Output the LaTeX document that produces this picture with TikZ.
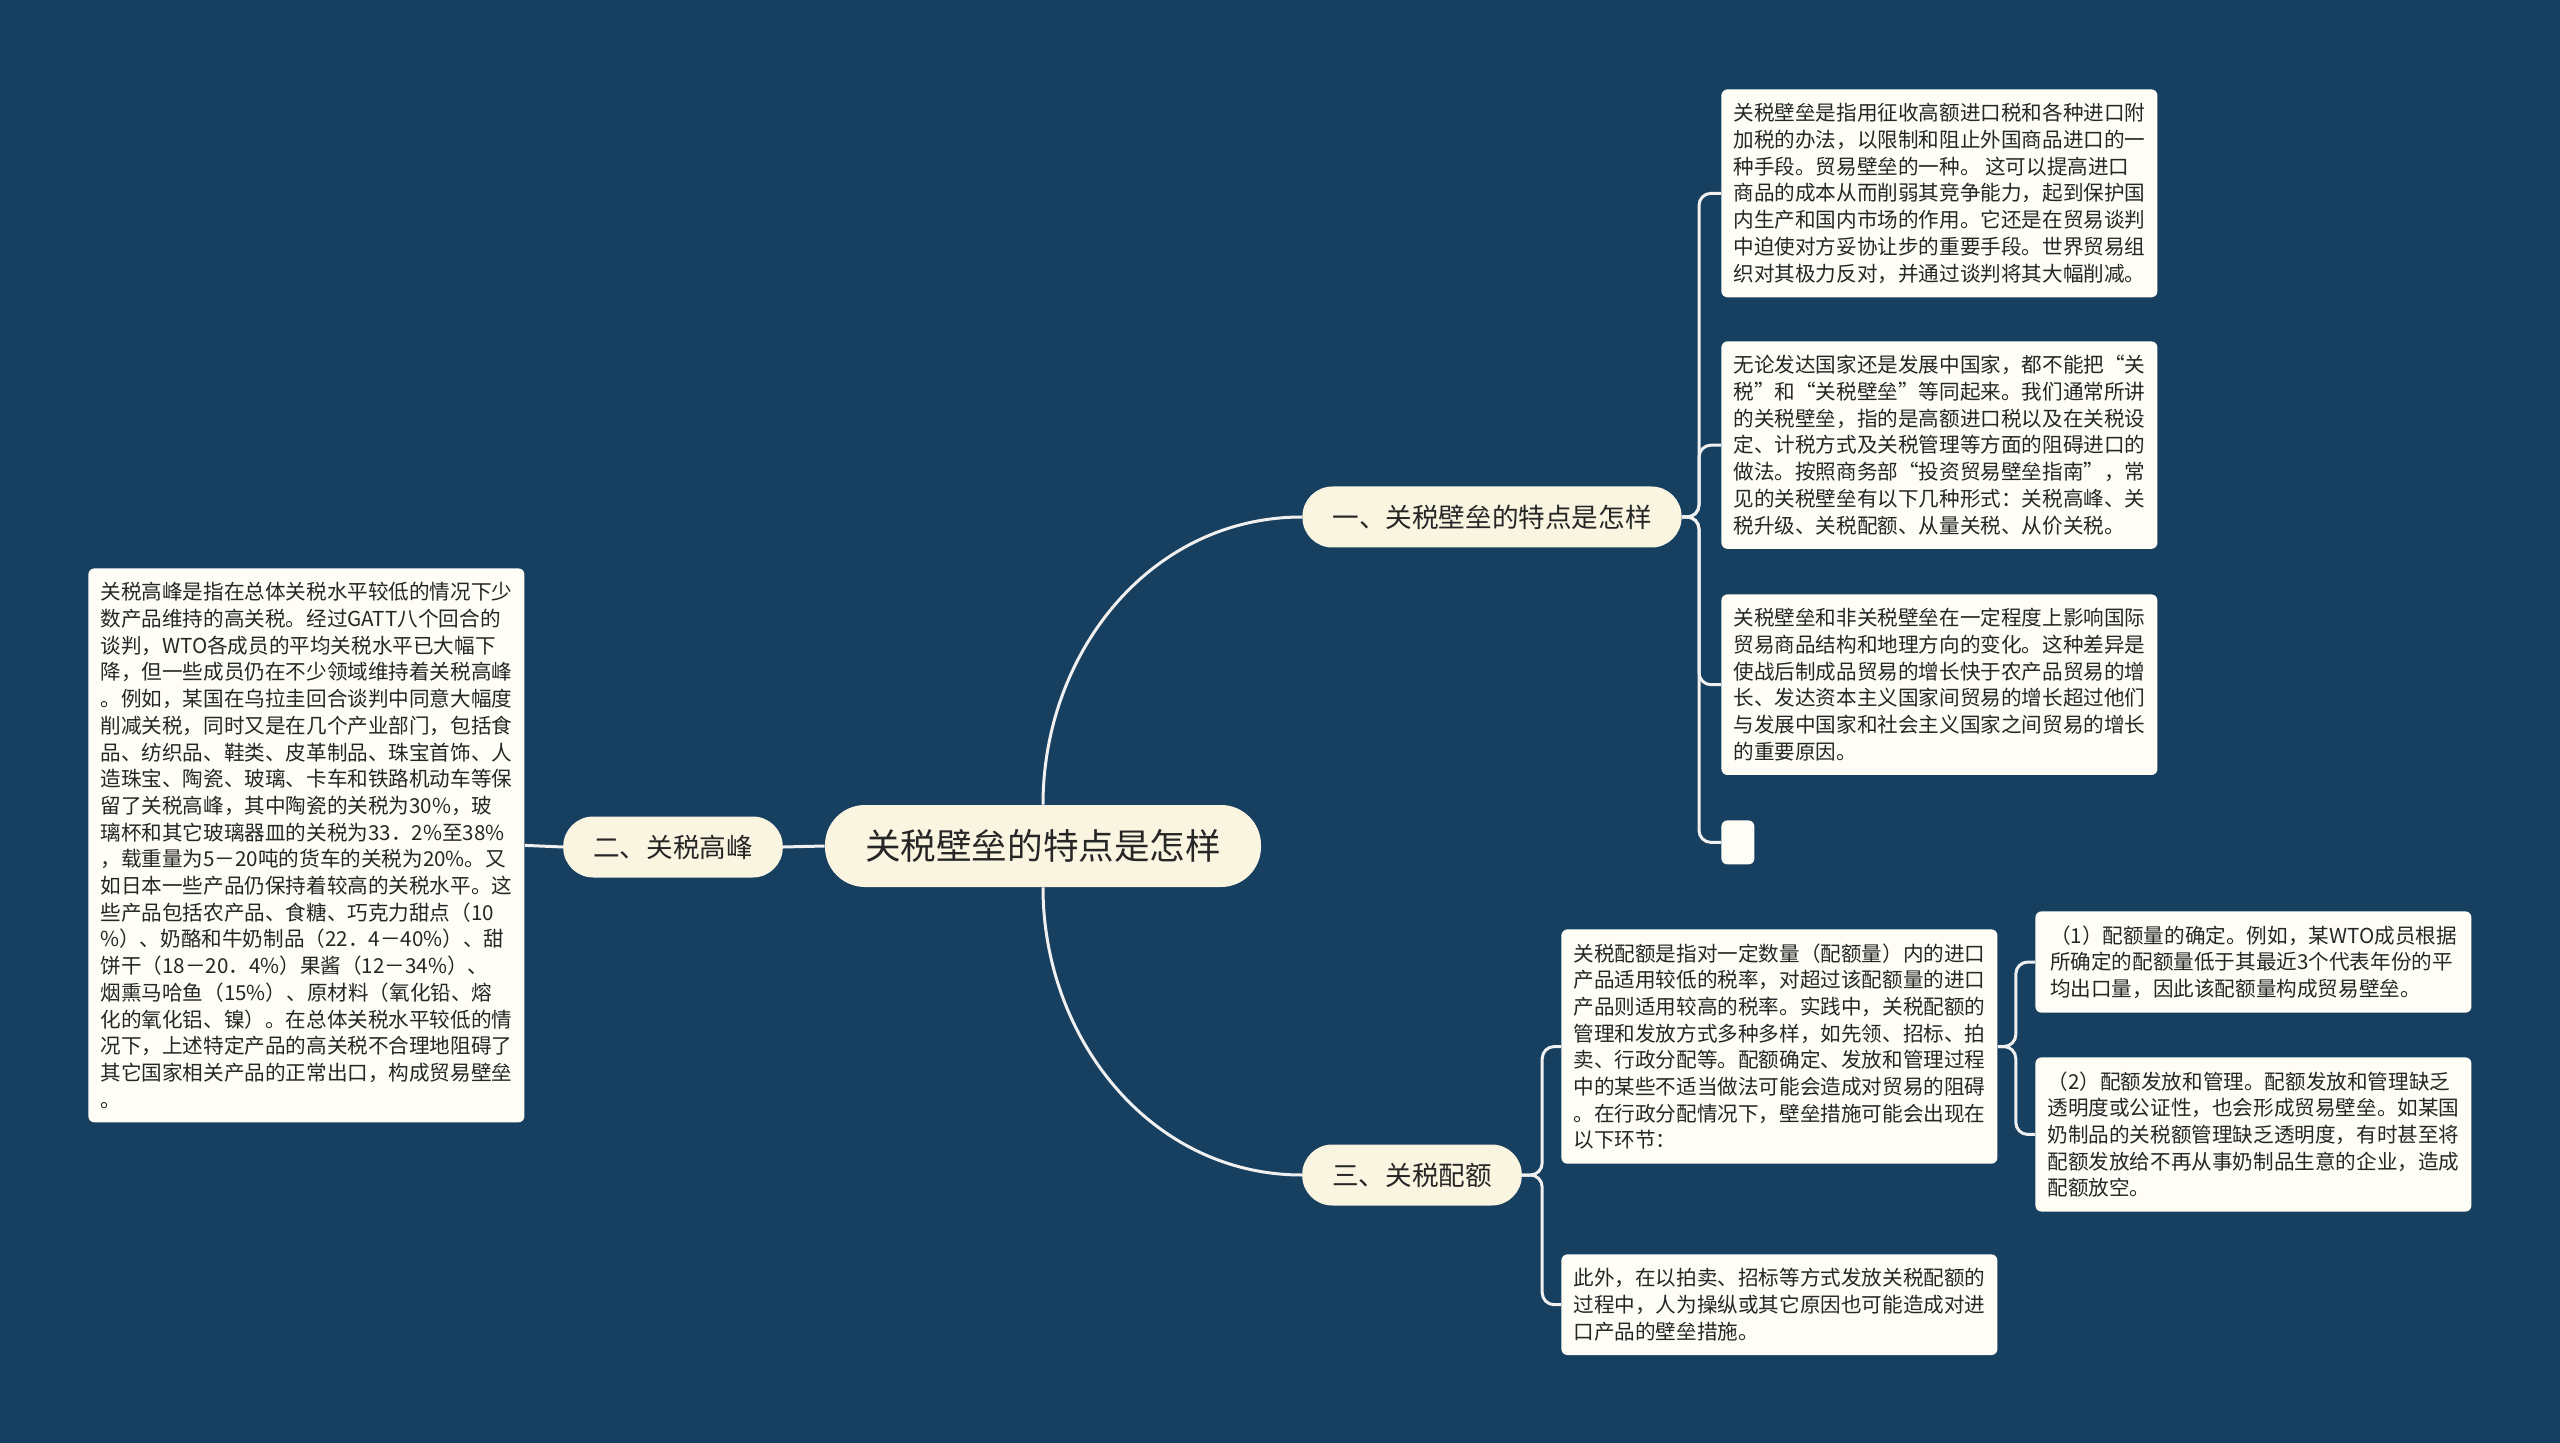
\documentclass[tikz,border=0pt]{standalone}
\usepackage{fontspec}
\setmainfont{Noto Sans CJK SC}
\usepackage{tikz}
\usetikzlibrary{positioning, calc}
\definecolor{bgnavy}{HTML}{173F5F}
\definecolor{cream}{HTML}{FAF5E1}
\definecolor{paper}{HTML}{FFFEF6}
\definecolor{ink}{HTML}{262626}

\begin{document}
\begin{tikzpicture}[
    x=0.5pt, y=-0.5pt,
    every node/.style={text=ink},
    root/.style={rectangle, fill=cream, rounded corners=20pt, inner xsep=20pt, minimum height=41pt, font=\fontsize{17.8}{20}\selectfont},
    branch/.style={rectangle, fill=cream, rounded corners=15pt, inner xsep=15pt, minimum height=30.5pt, font=\fontsize{13.3}{16}\selectfont},
    leaf/.style={rectangle, fill=paper, rounded corners=3pt, align=left, anchor=north west, inner xsep=5.5pt, inner ysep=7pt, minimum width=218pt, font=\fontsize{10.3}{13.35}\selectfont},
    link/.style={draw=white!94!black, line width=1.5pt, rounded corners=6pt},
]
    % --- canvas ---
    \fill[bgnavy] (0,0) rectangle (2560,1443);
    \useasboundingbox (0,0) rectangle (2560,1443);

    % --- centre and main branches ---
    \node[root] (root) at (1043,846) {关税壁垒的特点是怎样};
    \node[branch] (b1) at (1492,517) {一、关税壁垒的特点是怎样};
    \node[branch] (b2) at (673,847) {二、关税高峰};
    \node[branch] (b3) at (1412,1175) {三、关税配额};

    % --- branch one leaves ---
    \node[leaf] (l1) at (1721,89)
        {关税壁垒是指用征收高额进口税和各种进口附\\加税的办法，以限制和阻止外国商品进口的一\\种手段。贸易壁垒的一种。 这可以提高进口\\商品的成本从而削弱其竞争能力，起到保护国\\内生产和国内市场的作用。它还是在贸易谈判\\中迫使对方妥协让步的重要手段。世界贸易组\\织对其极力反对，并通过谈判将其大幅削减。};
    \node[leaf] (l2) at (1721,341)
        {无论发达国家还是发展中国家，都不能把“关\\税”和“关税壁垒”等同起来。我们通常所讲\\的关税壁垒，指的是高额进口税以及在关税设\\定、计税方式及关税管理等方面的阻碍进口的\\做法。按照商务部“投资贸易壁垒指南”，常\\见的关税壁垒有以下几种形式：关税高峰、关\\税升级、关税配额、从量关税、从价关税。};
    \node[leaf] (l3) at (1721,594)
        {关税壁垒和非关税壁垒在一定程度上影响国际\\贸易商品结构和地理方向的变化。这种差异是\\使战后制成品贸易的增长快于农产品贸易的增\\长、发达资本主义国家间贸易的增长超过他们\\与发展中国家和社会主义国家之间贸易的增长\\的重要原因。};
    \node[leaf, minimum width=16.5pt, minimum height=22pt] (l4) at (1721,820) {};

    % --- branch two leaf ---
    \node[leaf] (peak) at (88,568)
        {关税高峰是指在总体关税水平较低的情况下少\\数产品维持的高关税。经过GATT八个回合的\\谈判，WTO各成员的平均关税水平已大幅下\\降，但一些成员仍在不少领域维持着关税高峰\\。例如，某国在乌拉圭回合谈判中同意大幅度\\削减关税，同时又是在几个产业部门，包括食\\品、纺织品、鞋类、皮革制品、珠宝首饰、人\\造珠宝、陶瓷、玻璃、卡车和铁路机动车等保\\留了关税高峰，其中陶瓷的关税为30\%，玻\\璃杯和其它玻璃器皿的关税为33．2\%至38\%\\，载重量为5－20吨的货车的关税为20\%。又\\如日本一些产品仍保持着较高的关税水平。这\\些产品包括农产品、食糖、巧克力甜点（10\\\%）、奶酪和牛奶制品（22．4－40\%）、甜\\饼干（18－20．4\%）果酱（12－34\%）、\\烟熏马哈鱼（15\%）、原材料（氧化铅、熔\\化的氧化铝、镍）。在总体关税水平较低的情\\况下，上述特定产品的高关税不合理地阻碍了\\其它国家相关产品的正常出口，构成贸易壁垒\\。};

    % --- branch three leaves ---
    \node[leaf] (q1) at (1561,929)
        {关税配额是指对一定数量（配额量）内的进口\\产品适用较低的税率，对超过该配额量的进口\\产品则适用较高的税率。实践中，关税配额的\\管理和发放方式多种多样，如先领、招标、拍\\卖、行政分配等。配额确定、发放和管理过程\\中的某些不适当做法可能会造成对贸易的阻碍\\。在行政分配情况下，壁垒措施可能会出现在\\以下环节：};
    \node[leaf] (q2) at (1561,1254)
        {此外，在以拍卖、招标等方式发放关税配额的\\过程中，人为操纵或其它原因也可能造成对进\\口产品的壁垒措施。};
    \node[leaf] (q1a) at (2035,911)
        {（1）配额量的确定。例如，某WTO成员根据\\所确定的配额量低于其最近3个代表年份的平\\均出口量，因此该配额量构成贸易壁垒。};
    \node[leaf] (q1b) at (2035,1057)
        {（2）配额发放和管理。配额发放和管理缺乏\\透明度或公证性，也会形成贸易壁垒。如某国\\奶制品的关税额管理缺乏透明度，有时甚至将\\配额发放给不再从事奶制品生意的企业，造成\\配额放空。};

    % --- wiring from the centre ---
    \draw[link] (root.north) to[out=90, in=180] (b1.west);
    \draw[link] (root.south) to[out=-90, in=180] (b3.west);
    \draw[link] (root.west) -- (b2.east);
    \draw[link] (b2.west) -- (peak.east);

    % --- brackets to leaves ---
    \foreach \leafname in {l1, l2, l3, l4}
        \draw[link] (b1.east) -- ++(17,0) |- (\leafname.west);
    \foreach \leafname in {q1, q2}
        \draw[link] (b3.east) -- ++(20,0) |- (\leafname.west);
    \foreach \leafname in {q1a, q1b}
        \draw[link] (q1.east) -- ++(18,0) |- (\leafname.west);
\end{tikzpicture}
\end{document}
